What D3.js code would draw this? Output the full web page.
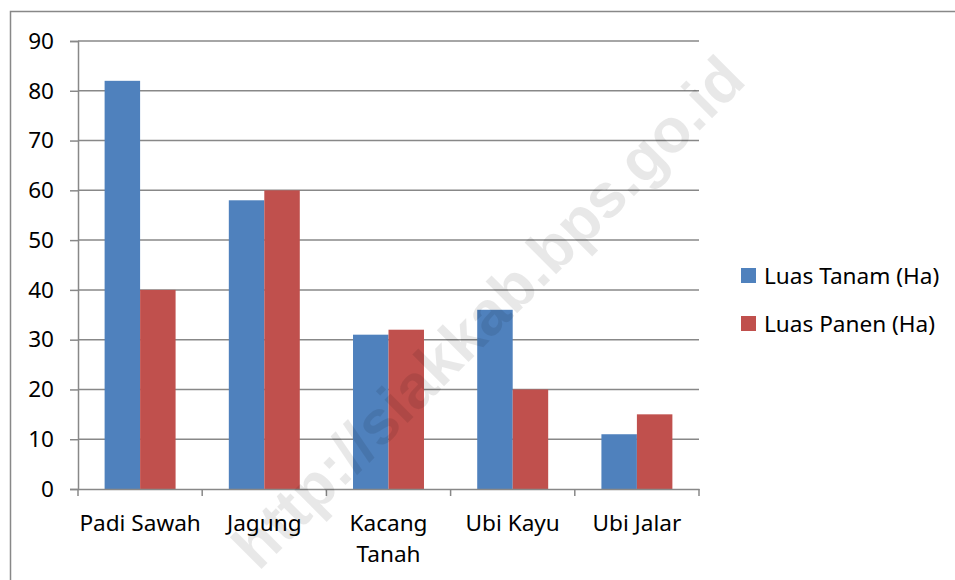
<!DOCTYPE html>
<html>
<head>
<meta charset="utf-8">
<script src="https://cdn.jsdelivr.net/npm/d3@7"></script>
<style>
  html, body { margin: 0; padding: 0; background: #fff; }
  svg { display: block; }
</style>
</head>
<body>
<svg id="chart" width="955" height="580"></svg>
<script>
const categories = ["Padi Sawah", "Jagung", "Kacang Tanah", "Ubi Kayu", "Ubi Jalar"];
const seriesNames = ["Luas Tanam (Ha)", "Luas Panen (Ha)"];
const luasTanam = [82, 58, 31, 36, 11];
const luasPanen = [40, 60, 32, 20, 15];
const yTicks = [0, 10, 20, 30, 40, 50, 60, 70, 80, 90];
const colors = ["#4F81BD", "#C0504D"];
const watermark = "http://siakkab.bps.go.id";

(function () {
const svg = d3.select("#chart");
const font = "'Noto Sans', 'Open Sans', sans-serif";
const fs = 22.6;

// outer border
svg.append("rect").attr("x", 10.5).attr("y", 11.5).attr("width", 960).attr("height", 600)
  .attr("fill", "#fff").attr("stroke", "#888").attr("stroke-width", 1.5);

const pLeft = 78, pRight = 699, pTop = 41, pBottom = 489;

const x = d3.scaleBand().domain(categories).range([pLeft, pRight]).paddingInner(0).paddingOuter(0);
const y = d3.scaleLinear().domain([0, 90]).range([pBottom, pTop]);

// gridlines
svg.append("g").selectAll("line").data(yTicks.filter(d => d > 0)).join("line")
  .attr("x1", pLeft).attr("x2", pRight)
  .attr("y1", d => y(d)).attr("y2", d => y(d))
  .attr("stroke", "#888").attr("stroke-width", 1.5);

// bars
const series = [luasTanam, luasPanen];
const band = x.bandwidth();
const bw = band / 3.5;
const gBars = svg.append("g");
categories.forEach((c, i) => {
  series.forEach((s, j) => {
    gBars.append("rect")
      .attr("x", x(c) + 0.75 * bw + j * bw)
      .attr("y", y(s[i]))
      .attr("width", bw)
      .attr("height", y(0) - y(s[i]))
      .attr("fill", colors[j]);
  });
});

// y axis
const yAxis = d3.axisLeft(y).tickValues(yTicks).tickSize(8).tickPadding(10).tickFormat(d3.format("d"));
const gy = svg.append("g").attr("transform", `translate(${pLeft},0)`).call(yAxis);
gy.select(".domain").attr("stroke", "#888").attr("stroke-width", 1.5);
gy.selectAll(".tick line").attr("stroke", "#888").attr("stroke-width", 1.5);
gy.selectAll(".tick text").attr("font-family", font).attr("font-size", fs).attr("fill", "#000")
  .attr("dx", -6);

// x axis
const xAxis = d3.axisBottom(x).tickSize(0).tickFormat("");
const gx = svg.append("g").attr("transform", `translate(0,${pBottom})`).call(xAxis);
gx.select(".domain").attr("stroke", "#888").attr("stroke-width", 1.5);
gx.selectAll(".tick").remove();
const bounds = categories.map(c => x(c)).concat([pRight]);
gx.selectAll("line.b").data(bounds).join("line").attr("class", "b")
  .attr("x1", d => d).attr("x2", d => d).attr("y1", 0).attr("y2", 7)
  .attr("stroke", "#888").attr("stroke-width", 1.5);

// category labels
const labelLines = { "Kacang Tanah": ["Kacang", "Tanah"] };
categories.forEach(c => {
  const lines = labelLines[c] || [c];
  const t = svg.append("text").attr("x", x(c) + band / 2).attr("y", 531)
    .attr("text-anchor", "middle").attr("font-family", font).attr("font-size", fs).attr("fill", "#000");
  lines.forEach((l, k) => {
    t.append("tspan").attr("x", x(c) + band / 2).attr("dy", k === 0 ? 0 : 31).text(l);
  });
});

// legend
const lg = svg.append("g");
seriesNames.forEach((n, i) => {
  const cy = 275.5 + i * 48;
  lg.append("rect").attr("x", 741).attr("y", cy - 7.5).attr("width", 15).attr("height", 15).attr("fill", colors[i]);
  lg.append("text").attr("x", 764).attr("y", cy).attr("dominant-baseline", "central")
    .attr("font-family", font).attr("font-size", fs).attr("fill", "#000").text(n);
});

// watermark
svg.append("text")
  .attr("transform", "translate(488,312) rotate(-45)")
  .attr("text-anchor", "middle").attr("dominant-baseline", "central")
  .attr("font-family", "'Liberation Sans', Arial, sans-serif").attr("font-weight", "bold")
  .attr("font-size", 62).attr("fill", "#000").attr("fill-opacity", 0.09)
  .text(watermark);
})();
</script>
</body>
</html>
